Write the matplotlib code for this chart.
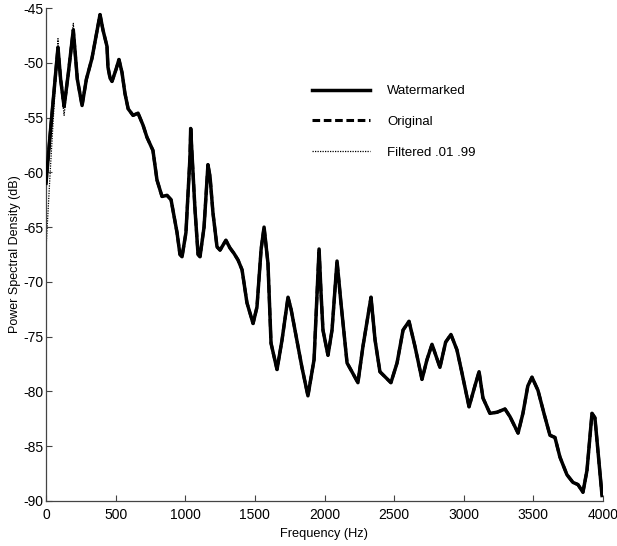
import matplotlib
matplotlib.use("Agg")
import matplotlib.pyplot as plt

plt.rcParams['font.family'] = ['Liberation Sans', 'DejaVu Sans']

freq_hz = [0, 30, 86, 105, 130, 160, 196, 225, 259, 290, 330, 388, 409, 438, 445, 460,
           474, 503, 524, 546, 567, 590, 625, 661, 697, 725, 768, 797, 833, 869, 898,
           941, 962, 977, 1005, 1034, 1039, 1048, 1070, 1092, 1106, 1135, 1163, 1178,
           1199, 1228, 1250, 1292, 1321, 1350, 1379, 1408, 1443, 1487, 1515, 1545, 1566,
           1594, 1616, 1659, 1695, 1738, 1760, 1788, 1838, 1881, 1925, 1961, 1975, 1989,
           2025, 2054, 2090, 2118, 2162, 2197, 2240, 2276, 2334, 2363, 2398, 2477, 2521,
           2564, 2607, 2650, 2700, 2736, 2772, 2829, 2870, 2908, 2951, 2987, 3038, 3080,
           3110, 3138, 3188, 3239, 3296, 3332, 3390, 3425, 3460, 3490, 3533, 3576, 3619,
           3655, 3691, 3741, 3784, 3820, 3856, 3885, 3921, 3942, 3993]

watermarked_db = [-61.0, -56.5, -48.6, -51.5, -54.0, -51.0, -47.0, -51.5, -53.9, -51.5,
                  -49.6, -45.6, -47.0, -48.5, -50.4, -51.4, -51.7, -50.6, -49.7, -50.9,
                  -52.8, -54.2, -54.8, -54.6, -55.7, -56.8, -58.0, -60.7, -62.2, -62.1,
                  -62.5, -65.5, -67.5, -67.7, -65.5, -58.6, -56.0, -58.2, -63.4, -67.5,
                  -67.7, -65.0, -59.3, -60.4, -63.7, -66.8, -67.1, -66.2, -66.9, -67.4,
                  -68.0, -68.9, -71.9, -73.8, -72.3, -67.0, -65.0, -68.3, -75.6, -78.0,
                  -75.3, -71.4, -72.5, -74.4, -77.8, -80.4, -77.1, -67.0, -71.0, -74.4,
                  -76.7, -74.4, -68.1, -71.9, -77.4, -78.2, -79.2, -75.9, -71.4, -75.3,
                  -78.2, -79.2, -77.4, -74.4, -73.6, -75.9, -78.9, -77.1, -75.7, -77.8,
                  -75.5, -74.8, -76.2, -78.3, -81.4, -79.5, -78.2, -80.6, -82.0, -81.9,
                  -81.6, -82.3, -83.8, -82.0, -79.5, -78.7, -79.9, -82.0, -84.0, -84.2,
                  -86.0, -87.6, -88.3, -88.5, -89.2, -87.2, -82.0, -82.4, -89.5]

original_db = list(watermarked_db)

# filtered series differs only at the lowest frequencies
filtered_low_db = [-67.0, -60.0, -47.8, -51.8, -54.8, -51.2, -46.4]
filtered_db = filtered_low_db + watermarked_db[len(filtered_low_db):]

x_ticks = [0, 500, 1000, 1500, 2000, 2500, 3000, 3500, 4000]
y_ticks = [-90, -85, -80, -75, -70, -65, -60, -55, -50, -45]

fig = plt.figure(figsize=(6.17, 5.46), dpi=100)
ax = fig.add_axes([46/617, 45/546, 557/617, 493/546])

ax.plot(freq_hz, filtered_db, color='black', linewidth=0.9, linestyle=(0, (1, 1)),
        label='Filtered .01 .99', zorder=1)
ax.plot(freq_hz, original_db, color='black', linewidth=2.2, linestyle=(0, (2.5, 1.2)),
        label='Original', zorder=2)
ax.plot(freq_hz, watermarked_db, color='black', linewidth=2.5, linestyle='-',
        solid_joinstyle='round', label='Watermarked', zorder=3)

ax.set_xlim(0, 4000)
ax.set_ylim(-90, -45)
ax.set_xticks(x_ticks)
ax.set_yticks(y_ticks)
ax.set_xticklabels([str(v) for v in x_ticks])
ax.set_yticklabels([str(v) for v in y_ticks])

for s in ['top', 'right']:
    ax.spines[s].set_visible(False)
for s in ['left', 'bottom']:
    ax.spines[s].set_color('#444444')
    ax.spines[s].set_linewidth(0.9)

ax.tick_params(axis='both', direction='in', length=4.5, width=0.8, color='#444444',
               labelsize=10)
ax.tick_params(axis='x', pad=5)
ax.tick_params(axis='y', pad=2)

ax.set_xlabel('Frequency (Hz)', fontsize=9.2, labelpad=4.5)
ax.set_ylabel('Power Spectral Density (dB)', fontsize=9)
ax.yaxis.set_label_coords((21 - 46) / 557, 0.5)

handles, labels = ax.get_legend_handles_labels()
order = [2, 1, 0]
leg = ax.legend([handles[i] for i in order], [labels[i] for i in order],
                frameon=False, loc='upper left',
                bbox_to_anchor=((312 - 46) / 557, (501 - 85) / 493),
                borderpad=0, borderaxespad=0, handlelength=4.4, handletextpad=1.3,
                labelspacing=1.4, fontsize=9.5)

fig.savefig('out.png', dpi=100, facecolor='white')
